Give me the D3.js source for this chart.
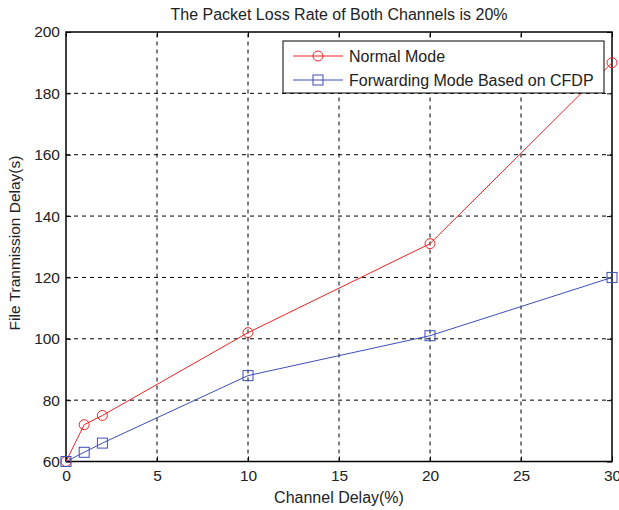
<!DOCTYPE html>
<html><head><meta charset="utf-8">
<script src="https://cdn.jsdelivr.net/npm/d3@7"></script>
<style>body{margin:0;background:#fff}svg{display:block}text{font-family:"Liberation Sans",Arial,sans-serif}</style>
</head><body><div id="chart"></div>
<script>
const xValues = [0, 1, 2, 10, 20, 30];
const normalMode = [60, 72, 75, 102, 131, 190];
const forwardingMode = [60, 63, 66, 88, 101, 120];
const seriesNames = ["Normal Mode", "Forwarding Mode Based on CFDP"];
const xTicks = [0, 5, 10, 15, 20, 25, 30];
const yTicks = [60, 80, 100, 120, 140, 160, 180, 200];
const title = "The Packet Loss Rate of Both Channels is 20%";
const xLabel = "Channel Delay(%)";
const yLabel = "File Tranmission Delay(s)";

const W = 619, H = 510;
const m = {left: 66, right: 7, top: 32, bottom: 48.5};
const svg = d3.select("#chart").append("svg").attr("width", W).attr("height", H);
const x = d3.scaleLinear().domain([0, 30]).range([m.left, W - m.right]);
const y = d3.scaleLinear().domain([60, 200]).range([H - m.bottom, m.top]);
const x0 = x(0), x1 = x(30), y0 = y(60), y1 = y(200);

// grid
const g = svg.append("g");
g.selectAll(".gx").data(xTicks.slice(1, -1)).join("line")
  .attr("x1", d => x(d)).attr("x2", d => x(d)).attr("y1", y0).attr("y2", y1)
  .attr("stroke", "#000").attr("stroke-width", 1).attr("stroke-dasharray", "4,4");
g.selectAll(".gy").data(yTicks.slice(1, -1)).join("line")
  .attr("x1", x0).attr("x2", x1).attr("y1", d => y(d)).attr("y2", d => y(d))
  .attr("stroke", "#000").attr("stroke-width", 1).attr("stroke-dasharray", "4,4");

// axes
const ax = svg.append("g").attr("transform", `translate(0,${y0})`)
  .call(d3.axisBottom(x).tickValues(xTicks).tickSize(-5).tickPadding(8));
const ay = svg.append("g").attr("transform", `translate(${x0},0)`)
  .call(d3.axisLeft(y).tickValues(yTicks).tickSize(-5).tickPadding(6));
const axt = svg.append("g").attr("transform", `translate(0,${y1})`)
  .call(d3.axisTop(x).tickValues(xTicks).tickSize(-5).tickFormat(""));
const ayr = svg.append("g").attr("transform", `translate(${x1},0)`)
  .call(d3.axisRight(y).tickValues(yTicks).tickSize(-5).tickFormat(""));
[ax, ay, axt, ayr].forEach(a => {
  a.select(".domain").remove();
  a.selectAll("line").attr("stroke", "#000");
  a.selectAll("text").attr("font-size", 15.5).attr("fill", "#222").style("font-family", '"Liberation Sans",Arial,sans-serif');
});
svg.append("rect").attr("x", x0).attr("y", y1).attr("width", x1 - x0).attr("height", y0 - y1)
  .attr("fill", "none").attr("stroke", "#000").attr("stroke-width", 1.5);

// lines
const colors = ["#ee2222", "#3d4fb8"];
const data = [normalMode, forwardingMode];
const line = d3.line().x((d, i) => x(xValues[i])).y(d => y(d));
data.forEach((s, k) => {
  svg.append("path").datum(s).attr("d", line).attr("fill", "none").attr("stroke", colors[k]).attr("stroke-width", 1);
  if (k === 0) {
    svg.selectAll(".c" + k).data(s).join("circle")
      .attr("cx", (d, i) => x(xValues[i])).attr("cy", d => y(d)).attr("r", 5)
      .attr("fill", "none").attr("stroke", colors[k]).attr("stroke-width", 1);
  } else {
    svg.selectAll(".s" + k).data(s).join("rect")
      .attr("x", (d, i) => x(xValues[i]) - 5).attr("y", d => y(d) - 5).attr("width", 10).attr("height", 10)
      .attr("fill", "none").attr("stroke", colors[k]).attr("stroke-width", 1);
  }
});

// legend
const lg = svg.append("g");
lg.append("rect").attr("x", 283).attr("y", 41).attr("width", 321).attr("height", 52)
  .attr("fill", "#fff").attr("stroke", "#000").attr("stroke-width", 1);
seriesNames.forEach((n, k) => {
  const cy = 56 + k * 24;
  lg.append("line").attr("x1", 293).attr("x2", 343).attr("y1", cy).attr("y2", cy).attr("stroke", colors[k]);
  if (k === 0) lg.append("circle").attr("cx", 318).attr("cy", cy).attr("r", 5).attr("fill", "none").attr("stroke", colors[k]);
  else lg.append("rect").attr("x", 313).attr("y", cy - 5).attr("width", 10).attr("height", 10).attr("fill", "none").attr("stroke", colors[k]);
  lg.append("text").attr("x", 349).attr("y", cy + 5.5).attr("font-size", 16).attr("fill", "#222").text(n);
});

// title and labels
svg.append("text").attr("x", 339).attr("y", 20).attr("text-anchor", "middle").attr("font-size", 16).attr("fill", "#222").text(title);
svg.append("text").attr("x", 339).attr("y", 503).attr("text-anchor", "middle").attr("font-size", 16).attr("fill", "#222").text(xLabel);
svg.append("text").attr("transform", "translate(20,243) rotate(-90)").attr("text-anchor", "middle").attr("font-size", 15.5).attr("fill", "#222").text(yLabel);
</script></body></html>
